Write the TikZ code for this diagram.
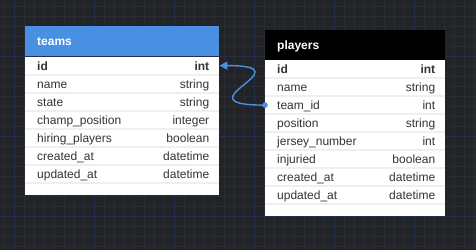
\documentclass[tikz,border=0pt]{standalone}
\usepackage{fontspec}
\setmainfont{Liberation Sans}
\usetikzlibrary{arrows.meta}

\definecolor{canvasbg}{HTML}{222327}
\definecolor{gridminor}{HTML}{292C33}
\definecolor{gridmajor}{HTML}{24304A}
\definecolor{linkblue}{HTML}{4A90E2}
\definecolor{rowtext}{HTML}{333333}
\definecolor{rowrule}{HTML}{EFEFF1}

\tikzset{
  minorline/.style={gridminor, line width=0.8pt},
  majorline/.style={gridmajor, line width=0.8pt},
  tablebody/.style={fill=white, draw=none, inner sep=0pt, anchor=north west},
  tablehead/.style={draw=none, inner sep=0pt, anchor=north west, minimum height=30pt,
    text=white, font=\fontsize{12}{14}\selectfont\bfseries, text height=9pt, text depth=0pt, align=left},
  fieldrow/.style={inner sep=0pt, anchor=north west, minimum height=18pt, text=rowtext,
    font=\fontsize{12}{14}\selectfont, text height=9pt, text depth=0pt},
  rowsep/.style={rowrule, line width=2pt},
  link/.style={linkblue, line width=1.4pt},
}

% #1 node name, #2 title, #3 left, #4 top, #5 width, #6 header fill, #7 field/type rows
\newcommand{\erdtable}[7]{%
  \pgfmathsetmacro\headtw{#5-24}%
  \pgfmathsetmacro\rowtw{#5-22}%
  \node[tablehead, fill=#6, inner xsep=12pt, text width=\headtw pt, minimum width=#5pt] (#1) at (#3,#4) {#2};
  \foreach \fname/\ftype [count=\i] in {#7} {\xdef\nrows{\i}}%
  \pgfmathsetmacro\bodyh{\nrows*18+12}%
  \node[tablebody, minimum width=#5pt, minimum height=\bodyh pt] (#1-body) at (#1.south west) {};
  \foreach \fname/\ftype [count=\i] in {#7} {
    \node[fieldrow, text width=\rowtw pt] (#1-r\i) at ([xshift=12pt, yshift={-(\i-1)*18pt}]#1.south west) {\fname\hfill\ftype};
    \draw[rowsep] (#1-body.west |- #1-r\i.south) -- (#1-body.east |- #1-r\i.south);
  }
}

\begin{document}
\begin{tikzpicture}[x=1pt, y=-1pt]
\useasboundingbox (0,0) rectangle (476,250);

% canvas with minor and major grid
\fill[canvasbg] (0,0) rectangle (476,250);
\foreach \gx in {4,14,...,474} \draw[minorline] (\gx,0) -- (\gx,250);
\foreach \gy in {6.7,16.7,...,246.7} \draw[minorline] (0,\gy) -- (476,\gy);
\foreach \gx in {14,94,...,414} \draw[majorline] (\gx,0) -- (\gx,250);
\foreach \gy in {56.7,136.7,216.7} \draw[majorline] (0,\gy) -- (476,\gy);

% tables
\erdtable{teams}{teams}{25}{26}{194}{linkblue}{%
  \textbf{id}/\textbf{int}, name/string, state/string, champ\_position/integer,
  hiring\_players/boolean, created\_at/datetime, updated\_at/datetime}

\erdtable{players}{players}{265}{29.5}{180}{black}{%
  \textbf{id}/\textbf{int}, name/string, team\_id/int, position/string,
  jersey\_number/int, injuried/boolean, created\_at/datetime, updated\_at/datetime}

% reference players.team_id -> teams.id
\coordinate (linkstart) at (players-body.west |- players-r3.center);
\coordinate (linkend) at (teams-body.east |- teams-r1.center);
\draw[link, -{Triangle[length=8pt, width=8pt]}] (linkstart) .. controls +(-90,0) and +(90,0) .. (linkend);
\fill[linkblue] (linkstart) circle (2.8);
\end{tikzpicture}
\end{document}
